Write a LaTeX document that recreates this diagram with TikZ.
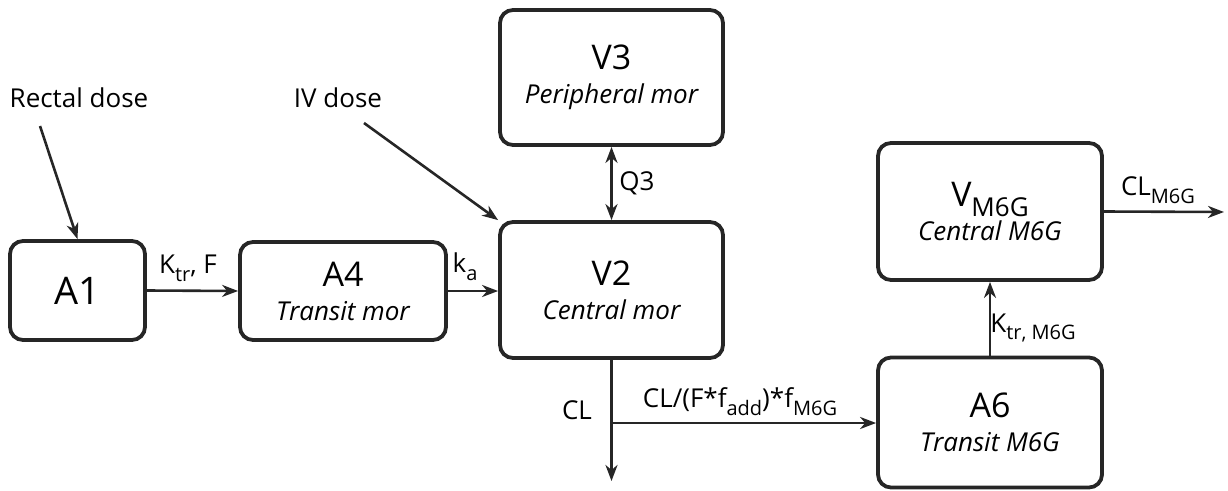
\documentclass[tikz,border=0pt]{standalone}
\usepackage{fontspec}
\setmainfont{Open Sans}
\usetikzlibrary{arrows.meta,calc}
\newcommand{\sbs}[1]{\raisebox{-0.3em}{\fontsize{20}{22}\selectfont #1}}
\newcommand{\subt}[1]{{\fontsize{26}{28}\selectfont\itshape #1}}
\begin{document}
\begin{tikzpicture}[x=1pt,y=-1pt,
  box/.style={draw=black!85,line width=3.8pt,rounded corners=13pt,align=center,inner sep=0pt,font=\fontsize{34}{35}\selectfont},
  tip/.style={},
  arr/.style={line width=2.6pt,draw=black!85,-{Stealth[length=16pt,width=12pt,inset=5pt]}},
  darr/.style={line width=2.6pt,draw=black!85,{Stealth[length=16pt,width=12pt,inset=5pt]}-{Stealth[length=16pt,width=12pt,inset=5pt]}},
  lab/.style={font=\fontsize{26}{28}\selectfont,inner sep=0pt}]
\useasboundingbox (0,0) rectangle (1228,490);
\node[box,minimum width=135pt,minimum height=99pt,font=\fontsize{38}{40}\selectfont] (A1) at (77.5,290.5) {A1};
\node[box,minimum width=206pt,minimum height=98pt] (A4) at (343,291) {A4\\[-1pt]\subt{Transit mor}};
\node[box,minimum width=223pt,minimum height=136pt] (V2) at (611.5,290) {V2\\[-1pt]\subt{Central mor}};
\node[box,minimum width=223pt,minimum height=135pt] (V3) at (611.5,77.5) {V3\\[-1pt]\subt{Peripheral mor}};
\node[box,minimum width=224pt,minimum height=137pt] (VM) at (990,211.5) {V\raisebox{-0.3em}{\fontsize{26}{28}\selectfont M6G}\\[-1pt]\subt{Central M6G}};
\node[box,minimum width=224pt,minimum height=130pt] (A6) at (990,422.5) {A6\\[-1pt]\subt{Transit M6G}};
\node[lab] (rectal) at (79,98) {Rectal dose};
\node[lab] (iv) at (338,98) {IV dose};
\coordinate (rs) at (40,126);
\coordinate (is) at (364,123);
\coordinate (cl) at (611.5,481);
\coordinate (br) at (611.5,423);
\coordinate (clm) at (1224,212);
\draw[arr] (rs) -- (A1.north);
\draw[arr] (is) -- (V2.north west);
\draw[arr] (A1.east) -- (A4.west);
\draw[arr] (A4.east) -- (A4.east -| V2.west);
\draw[darr] (V3.south) -- (V2.north);
\draw[arr] (V2.south) -- (cl);
\draw[arr] (br) -- (br -| A6.west);
\draw[arr] (A6.north) -- (VM.south);
\draw[arr] (VM.east) -- (clm);
\node[lab] (l1) at (188,268) {K\sbs{tr}, F};
\node[lab] (l2) at (465,267) {k\sbs{a}};
\node[lab] (l3) at (637,183) {Q3};
\node[lab] (l4) at (577,410) {CL};
\node[lab] (l5) at (740,402) {CL/(F*f\sbs{add})*f\sbs{M6G}};
\node[lab] (l6) at (1033,328) {K\sbs{tr, M6G}};
\node[lab] (l7) at (1158,190) {CL\sbs{M6G}};
\end{tikzpicture}
\end{document}
